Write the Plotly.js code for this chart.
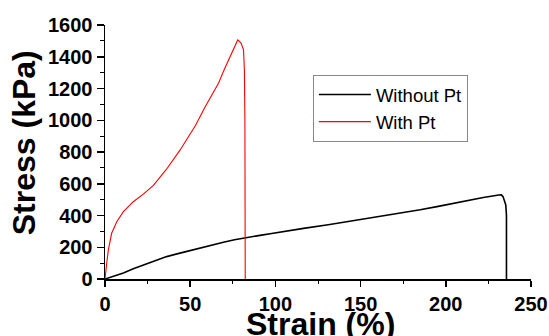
<!DOCTYPE html>
<html>
<head>
<meta charset="utf-8">
<script src="https://cdn.plot.ly/plotly-3.0.1.min.js"></script>
<style>html,body{margin:0;padding:0;background:#fff;}#chart{width:549px;height:336px;}</style>
</head>
<body>
<div id="chart"></div>
<script>
// Without Pt
const strainWithout = [0, 5, 10.8, 16.6, 20.6, 30.3, 36.2, 44, 50, 55.8, 62, 69.5, 76, 82.3, 91, 96.9, 102.8, 116.5, 131, 145.9, 160, 175.2, 185, 194.8, 204, 214.4, 222, 231.1, 232.6, 233.6, 234.5, 235.2, 235.6, 235.6];
const stressWithout = [0, 17, 38, 64, 80, 118, 141, 163, 180, 195, 212, 232, 247, 260, 275, 285, 294, 319, 342, 367, 392, 418, 436, 456, 476, 498, 513, 529, 530, 519, 495, 466, 400, 0];
// With Pt
const strainWith = [0, 0.3, 1.0, 1.96, 3.9, 6.9, 10.8, 16.6, 22.5, 28.4, 36, 44.1, 47, 53, 58.8, 62.5, 66.6, 70, 73.4, 76, 77.9, 78.6, 79.9, 81.3, 81.8, 82.1, 82.3, 82.3];
const stressWith = [0, 45, 99, 183, 288, 361, 424, 487, 535, 590, 690, 813, 860, 965, 1085, 1155, 1233, 1320, 1400, 1462, 1506, 1500, 1484, 1443, 1317, 1000, 687, 0];

const seriesNames = ["Without Pt", "With Pt"];
const xTicks = [0, 50, 100, 150, 200, 250];
const yTicks = [0, 200, 400, 600, 800, 1000, 1200, 1400, 1600];
const xTitle = 'Strain (%)';
const yTitle = 'Stress (kPa)';

const traces = [
  {x: strainWithout, y: stressWithout, type: 'scatter', mode: 'lines', name: seriesNames[0],
   line: {color: '#000000', width: 1.6}},
  {x: strainWith, y: stressWith, type: 'scatter', mode: 'lines', name: seriesNames[1],
   line: {color: '#ff0000', width: 1.1}}
];

const fam = 'Liberation Sans, Arial, sans-serif';
const titleFont = {family: fam, size: 32, weight: 'bold', color: '#000'};
const layout = {
  width: 549, height: 336,
  margin: {l: 105, r: 18, t: 25, b: 57},
  paper_bgcolor: '#fff', plot_bgcolor: '#fff',
  showlegend: true,
  legend: {
    x: 0.488, y: 0.803, xanchor: 'left', yanchor: 'top',
    bordercolor: '#888', borderwidth: 1, bgcolor: '#fff',
    font: {family: fam, size: 18.5, color: '#000'},
    itemwidth: 52, tracegroupgap: 0
  },
  xaxis: {
    range: [0, 250], tickvals: xTicks, ticktext: xTicks.map(String),
    showgrid: false, zeroline: false, showline: true, linecolor: '#000', linewidth: 1.5,
    ticks: 'outside', ticklen: 6, tickwidth: 1.5, tickcolor: '#000',
    minor: {dtick: 25, ticks: 'outside', ticklen: 3, tickwidth: 1, tickcolor: '#000', showgrid: false},
    tickfont: {family: fam, size: 20, weight: 'bold', color: '#000'},
    fixedrange: true
  },
  yaxis: {
    range: [0, 1600], tickvals: yTicks, ticktext: yTicks.map(String),
    showgrid: false, zeroline: false, showline: true, linecolor: '#000', linewidth: 1.5,
    ticks: 'outside', ticklen: 7, tickwidth: 1.5, tickcolor: '#000',
    minor: {dtick: 100, ticks: 'outside', ticklen: 4, tickwidth: 1, tickcolor: '#000', showgrid: false},
    tickfont: {family: fam, size: 20, weight: 'bold', color: '#000'},
    fixedrange: true
  },
  annotations: [
    {text: xTitle, xref: 'paper', yref: 'paper', x: 0.507, y: -0.177, xanchor: 'center', yanchor: 'middle',
     showarrow: false, font: titleFont},
    {text: yTitle, xref: 'paper', yref: 'paper', x: -0.191, y: 0.537, xanchor: 'center', yanchor: 'middle',
     textangle: -90, showarrow: false, font: titleFont}
  ]
};

Plotly.newPlot('chart', traces, layout, {displayModeBar: false, staticPlot: true});
</script>
</body>
</html>
